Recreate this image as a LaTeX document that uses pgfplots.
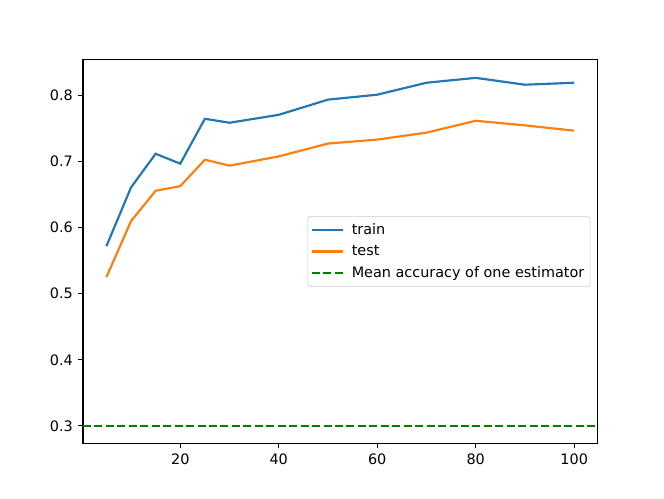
\documentclass[border=0pt]{standalone}
\usepackage{fontspec}
\setmainfont{DejaVu Sans}
\usepackage{pgfplots}
\pgfplotsset{compat=1.18}
\definecolor{tabblue}{HTML}{1F77B4}
\definecolor{taborange}{HTML}{FF7F0E}
\definecolor{mgreen}{rgb}{0,0.5,0}
\begin{document}
\fontsize{10pt}{12pt}\selectfont
\begin{tikzpicture}
\begin{axis}[
  scale only axis,
  width=357.12pt, height=266.11pt,
  xmin=0.25, xmax=104.75,
  ymin=0.2736, ymax=0.8544,
  xtick={20,40,60,80,100},
  ytick={0.3,0.4,0.5,0.6,0.7,0.8},
  yticklabel style={/pgf/number format/.cd,fixed,fixed zerofill,precision=1},
  /pgf/number format/assume math mode=true,
  tick align=outside,
  tick pos=left,
  major tick length=3.5pt,
  every tick/.style={black, line width=0.8pt},
  axis line style={line width=0.8pt},
  tick label style={font=\fontsize{10pt}{12pt}\selectfont},
  xticklabel style={yshift=-0.5pt},
  legend style={at={(1,0.5)}, anchor=east, xshift=-5pt, draw=black!20, rounded corners=2pt,
    font=\fontsize{10pt}{12pt}\selectfont, row sep=2pt, inner xsep=2pt, inner ysep=3pt},
  legend cell align=left,
  legend image code/.code={\draw[#1] (0pt,0pt) -- (22pt,0pt); \path (25pt,0pt);},
]
\addplot[tabblue, line width=1.5pt] coordinates {
(5,0.572) (10,0.661) (15,0.712) (20,0.697) (25,0.765) (30,0.759) (40,0.771)
(50,0.794) (60,0.8015) (70,0.8196) (80,0.827) (90,0.8166) (100,0.8196)};
\addlegendentry{train}
\addplot[taborange, line width=1.5pt] coordinates {
(5,0.525) (10,0.610) (15,0.656) (20,0.663) (25,0.703) (30,0.694) (40,0.708)
(50,0.7275) (60,0.7335) (70,0.744) (80,0.762) (90,0.755) (100,0.747)};
\addlegendentry{test}
\addplot[mgreen, line width=1.5pt, dash pattern=on 5.55pt off 2.4pt] coordinates {(0.25,0.3) (104.75,0.3)};
\addlegendentry{Mean accuracy of one estimator}
\end{axis}
\pgfresetboundingbox
\path ([xshift=-57.6pt,yshift=-38.016pt]current axis.south west) rectangle ([xshift=46.08pt,yshift=41.472pt]current axis.north east);
\end{tikzpicture}
\end{document}
